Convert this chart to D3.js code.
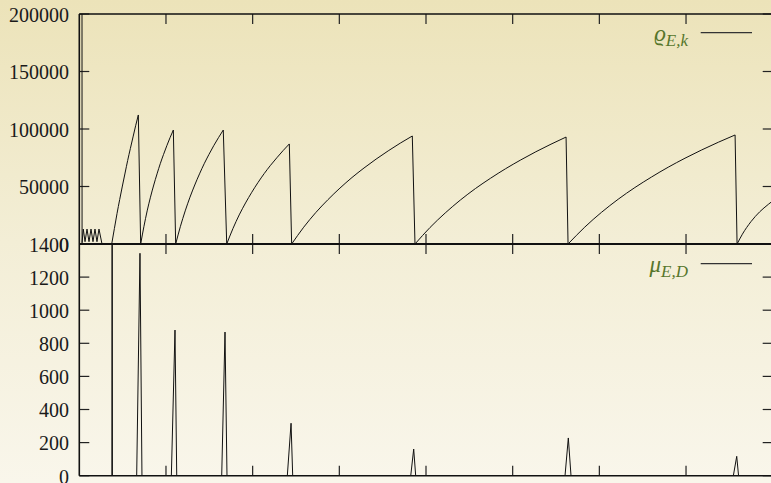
<!DOCTYPE html>
<html><head><meta charset="utf-8">
<script src="https://cdn.jsdelivr.net/npm/d3@7"></script>
<style>
html,body{margin:0;padding:0;}
body{width:771px;height:483px;overflow:hidden;background:linear-gradient(to bottom,#ece3b9 0%,#f3eed6 50%,#f9f6eb 100%);}
svg{display:block;}
</style></head><body>
<svg id="c" width="771" height="483"></svg>
<script>
// ---- data ----
const xTicks = [0,1,2,3,4,5,6,7,8];
const rhoTicks = [0,50000,100000,150000,200000];
const muTicks = [0,200,400,600,800,1000,1200,1400];
const rhoLabel = {main:"ϱ", sub:"E,k"};
const muLabel = {main:"μ", sub:"E,D"};

const rhoX = [0.031,0.032,0.046,0.066,0.089,0.112,0.135,0.158,0.181,0.204,0.227,0.262,0.374,
  0.405,0.435,0.466,0.497,0.528,0.558,0.589,0.620,0.650,0.681,0.708,
  0.746,0.783,0.821,0.859,0.897,0.934,0.972,1.010,1.047,1.085,1.112,
  1.167,1.222,1.277,1.332,1.387,1.441,1.496,1.551,1.606,1.661,1.701,
  1.773,1.845,1.918,1.990,2.062,2.134,2.206,2.279,2.351,2.423,2.450,
  2.589,2.728,2.868,3.007,3.146,3.285,3.424,3.564,3.703,3.842,3.873,
  4.047,4.222,4.396,4.570,4.745,4.919,5.093,5.267,5.442,5.616,5.639,
  5.832,6.024,6.217,6.410,6.603,6.795,6.988,7.181,7.373,7.566,7.589,
  7.65,7.75,7.85,7.95,8.05];
const rhoY = [260000,1000,13000,2000,13000,2000,13000,2000,13000,2000,13000,0,0,
  13500,26400,38700,50400,61700,72600,83000,93100,102800,112200,0,
  15400,28800,40700,51300,61000,69800,77900,85500,92500,99100,0,
  15400,28800,40700,51300,61000,69800,77900,85500,92500,99100,0,
  13500,25300,35700,45000,53500,61300,68400,75000,81200,87000,0,
  14600,27300,38500,48600,57800,66100,73800,81000,87700,93900,0,
  14400,27000,38200,48200,57200,65500,73100,80200,86800,93000,0,
  14700,27500,38900,49100,58300,66800,74600,81800,88500,94800,0,
  8500,19500,28000,34500,40500];

const muX = [0,0.376,0.379,0.382,0.662,0.700,0.723,1.062,1.104,1.124,1.643,1.681,1.704,
  2.400,2.443,2.462,3.824,3.858,3.881,5.604,5.642,5.673,7.546,7.585,7.606,8];
const muY = [0,0,3000,0,0,1344,0,0,880,0,0,868,0,0,317,0,0,161,0,0,228,0,0,117,0,0];

// ---- layout ----
const L = 79.3, R = 772.7;
const svg = d3.select("#c");
const x = d3.scaleLinear().domain([0,8]).range([L,R]);
const yTop = d3.scaleLinear().domain([0,200000]).range([244,14]);
const yBot = d3.scaleLinear().domain([0,1400]).range([475.7,244]);

const defs = svg.append("defs");
function clip(id, y0, y1){
  defs.append("clipPath").attr("id",id).append("rect")
    .attr("x",L).attr("y",y0).attr("width",R-L).attr("height",y1-y0);
}
clip("cTop",14,244); clip("cBot",244,475.7);

function panel(y, ticks){
  const g = svg.append("g");
  const [yb, yt] = y.range();
  ticks.forEach(t=>{
    const py = y(t);
    g.append("line").attr("x1",L).attr("x2",L+10).attr("y1",py).attr("y2",py)
      .attr("stroke","#222").attr("stroke-width",1.2);
    g.append("line").attr("x1",R-10).attr("x2",R).attr("y1",py).attr("y2",py)
      .attr("stroke","#222").attr("stroke-width",1.2);
    g.append("text").attr("x",69).attr("y",py+7.8).attr("text-anchor","end")
      .attr("font-family","'Liberation Serif', serif").attr("font-size",20)
      .attr("fill","#1a1a1a").text(t);
  });
  xTicks.slice(1,-1).forEach(t=>{
    const px = x(t);
    g.append("line").attr("x1",px).attr("x2",px).attr("y1",yb).attr("y2",yb-10)
      .attr("stroke","#222").attr("stroke-width",1.2);
    g.append("line").attr("x1",px).attr("x2",px).attr("y1",yt).attr("y2",yt+10)
      .attr("stroke","#222").attr("stroke-width",1.2);
  });
}
panel(yTop, rhoTicks);
panel(yBot, muTicks);

function drawSeries(xs, ys, y, clipId, smooth){
  const pts = xs.map((v,i)=>[x(v), y(ys[i])]);
  const g = svg.append("g").attr("clip-path",`url(#${clipId})`);
  if(!smooth){
    g.append("path").attr("d", d3.line()(pts)).attr("fill","none")
      .attr("stroke","#111").attr("stroke-width",1);
    return;
  }
  let seg=[pts[0]], rising=null;
  const segs=[];
  for(let i=1;i<pts.length;i++){
    const r = ys[i] > ys[i-1];
    if(rising===null || r===rising){ seg.push(pts[i]); rising=r; }
    else { segs.push({p:seg, r:rising}); seg=[pts[i-1],pts[i]]; rising=r; }
  }
  segs.push({p:seg, r:rising});
  segs.forEach(s=>{
    const ln = d3.line().curve(s.r ? d3.curveMonotoneX : d3.curveLinear);
    g.append("path").attr("d", ln(s.p)).attr("fill","none")
      .attr("stroke","#111").attr("stroke-width",1);
  });
}
drawSeries(rhoX, rhoY, yTop, "cTop", true);
drawSeries(muX, muY, yBot, "cBot", false);

const fr = svg.append("g").attr("stroke","#111").attr("fill","none");
fr.append("line").attr("x1",L).attr("x2",R).attr("y1",14).attr("y2",14).attr("stroke-width",1.5);
fr.append("line").attr("x1",L).attr("x2",R).attr("y1",244).attr("y2",244).attr("stroke-width",2.2);
fr.append("line").attr("x1",L).attr("x2",R).attr("y1",475.7).attr("y2",475.7).attr("stroke-width",1.5);
fr.append("line").attr("x1",L).attr("x2",L).attr("y1",14).attr("y2",475.7).attr("stroke-width",1.6);
fr.append("line").attr("x1",R).attr("x2",R).attr("y1",14).attr("y2",475.7).attr("stroke-width",1.5);

function legend(lbl, ly){
  const t = svg.append("text").attr("x",688).attr("y",ly+8.3).attr("text-anchor","end")
    .attr("font-family","'Liberation Serif', serif").attr("font-style","italic")
    .attr("fill","#56762b").attr("font-size",23);
  t.append("tspan").text(lbl.main);
  t.append("tspan").attr("dy",4.5).attr("font-size",17).text(lbl.sub);
  svg.append("line").attr("x1",700.7).attr("x2",752).attr("y1",ly).attr("y2",ly)
    .attr("stroke","#333").attr("stroke-width",1.2);
}
legend(rhoLabel, 32.7);
legend(muLabel, 263.7);
</script>
</body></html>
